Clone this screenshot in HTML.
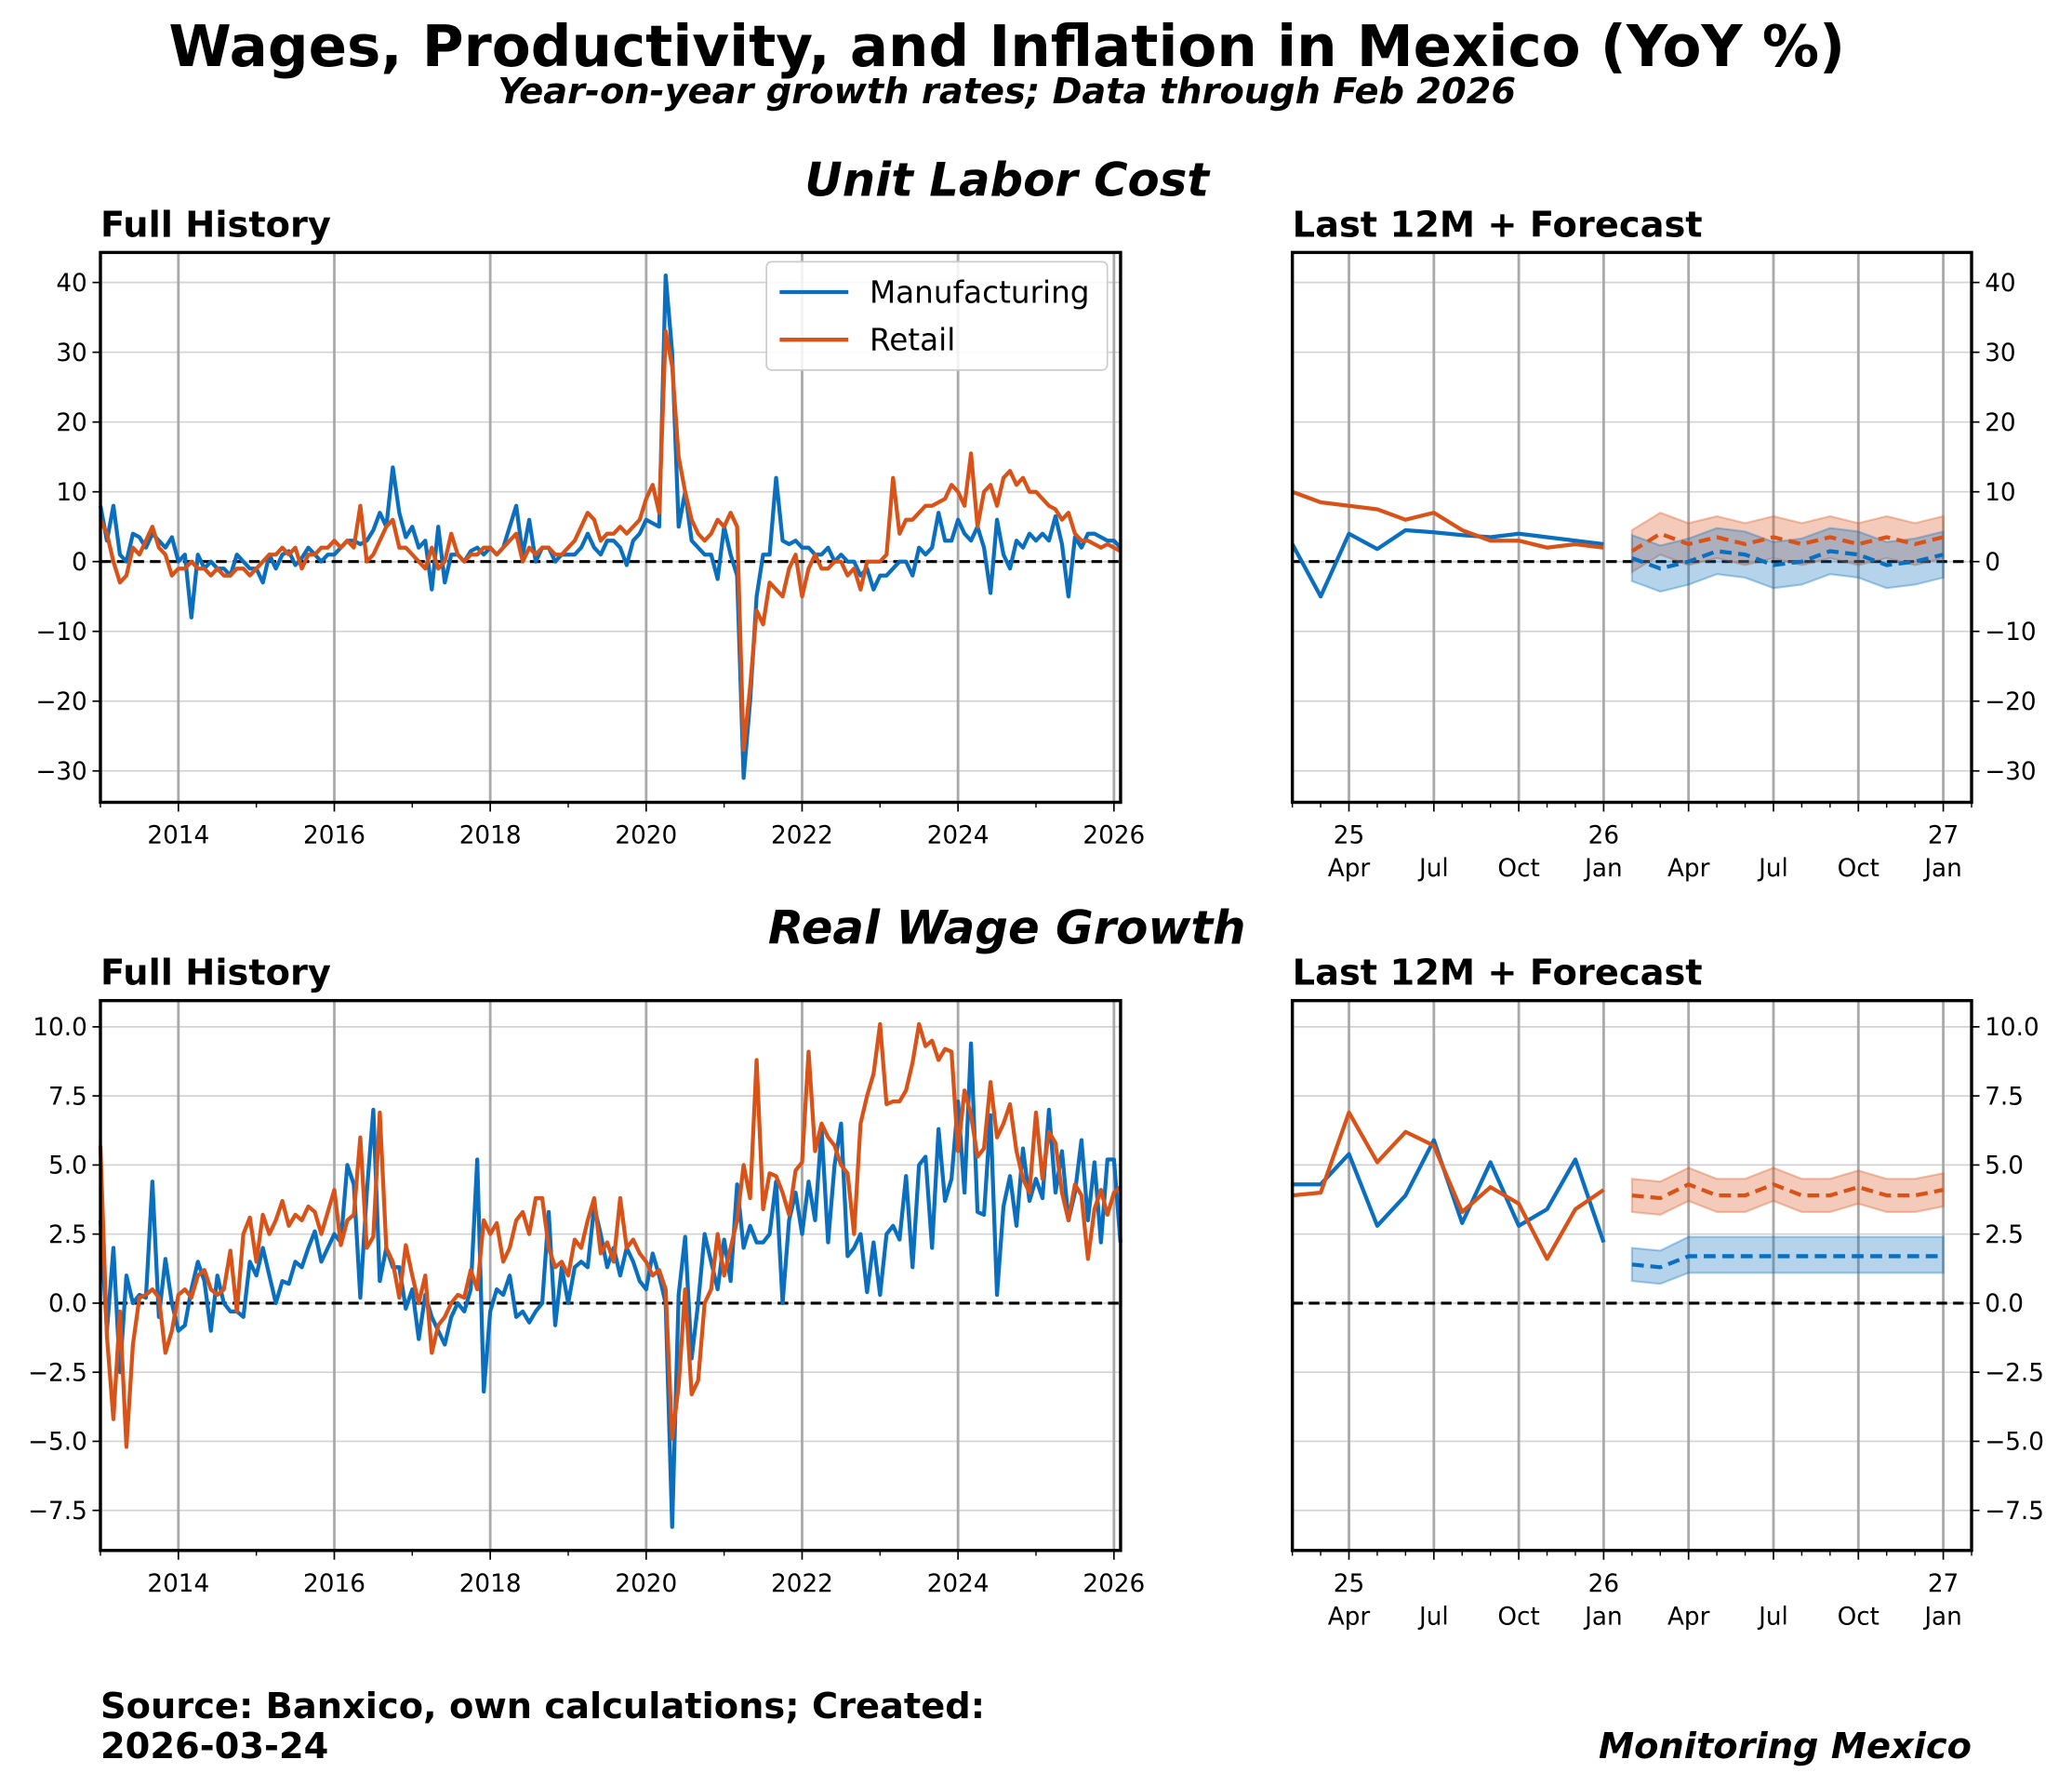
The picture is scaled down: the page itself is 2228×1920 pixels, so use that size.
<!DOCTYPE html>
<html><head><meta charset="utf-8">
<style>
html,body{margin:0;padding:0;background:#fff;}
svg{display:block;font-family:"DejaVu Sans","Liberation Sans",sans-serif;}
</style></head>
<body>
<svg id="c" xmlns="http://www.w3.org/2000/svg" width="2228" height="1920" viewBox="0 0 1568 1351.2" preserveAspectRatio="none">
<rect width="1568" height="1352" fill="#fff"/>
<text x="762" y="50" text-anchor="middle" font-size="43" font-weight="bold">Wages, Productivity, and Inflation in Mexico (YoY %)</text>
<text x="762" y="78" text-anchor="middle" font-size="27" font-weight="bold" font-style="italic">Year-on-year growth rates; Data through Feb 2026</text>
<text x="762" y="148" text-anchor="middle" font-size="35" font-weight="bold" font-style="italic">Unit Labor Cost</text>
<text x="762" y="714" text-anchor="middle" font-size="35" font-weight="bold" font-style="italic">Real Wage Growth</text>
<text x="76" y="179" font-size="27" font-weight="bold">Full History</text>
<text x="978" y="179" font-size="27" font-weight="bold">Last 12M + Forecast</text>
<text x="76" y="745" font-size="27" font-weight="bold">Full History</text>
<text x="978" y="745" font-size="27" font-weight="bold">Last 12M + Forecast</text>
<text x="76" y="1300" font-size="27" font-weight="bold">Source: Banxico, own calculations; Created:</text>
<text x="76" y="1330" font-size="27" font-weight="bold">2026-03-24</text>
<text x="1492" y="1330" text-anchor="end" font-size="27" font-weight="bold" font-style="italic">Monitoring Mexico</text>
</svg>
<script>
// ---- data ----
const ulcMfg=[8,3,8,1,0,4,3.5,2,4,3,2,3.5, 0,1,-8,1,-1,0,-1,-1,-2,1,0,-1, -1,-3,1,-1,1,1.5,-0.5,0.5,2,1,0,1, 1,2,3,3,2.5,3,4.5,7,5,13.5,7,3.5, 5,2,3,-4,5,-3,1,1,0,1.5,2,1, 2,1,2,5,8,1,6,0,2,2,0,1, 1,1,2,4,2,1,3,3,2,-0.5,3,4, 6,5.5,5,41,30,5,10,3,2,1,1,-2.5, 5,1,-2,-31,-20,-5,1,1,12,3,2.5,3, 2,2,1,1,2,0,1,0,0,-2,-1,-4, -2,-2,-1,0,0,-2,2,1,2,7,3,3, 6,4,3,5,2,-4.5,6,1,-1,3,2,4, 3,4,3,6.5,2.5,-5,3.5,2,4,4,3.5,3, 3,2];
const ulcRet=[6,4,0,-3,-2,2,1,3,5,2,1,-2, -1,-1,0,-1,-1,-2,-1,-2,-2,-1,-1,-2, -1,0,1,1,2,1,2,-1,1,1,2,2, 3,2,3,2,8,0,1,3,5,6,2,2, 1,0,-1,2,-1,0,4,1,0,1,1,2, 2,1,2,3,4,0,2,1,2,2,1,1, 2,3,5,7,6,3,4,4,5,4,5,6, 9,11,7,33,28,15,10,6,4,3,4,6, 5,7,5,-27,-18,-7,-9,-3,-4,-5,-1,1, -5,-1,1,-1,-1,0,0,-2,-1,-4,0,0, 0,1,12,4,6,6,7,8,8,8.5,9,11, 10,8,15.5,5,10,11,8,12,13,11,12,10, 10,9,8,7.5,6,7,4,3,3,2.5,2,2.5, 2,1.5];
const rwMfg=[3,-1,2,-2.5,1,0,0.3,0.2,4.4,-0.5,1.6,0, -1,-0.8,0.5,1.5,0.8,-1,1,0,-0.3,-0.3,-0.5,1.5, 1,2,1,0,0.8,0.7,1.5,1.3,2,2.6,1.5,2, 2.5,2.2,5,4.3,0.2,4,7,0.8,2,1.3,1.3,-0.2, 0.5,-1.3,0.3,-0.5,-1,-1.5,-0.5,0,-0.3,0.5,5.2,-3.2, -0.3,0.5,0.3,1,-0.5,-0.3,-0.7,-0.3,0,3.3,-0.8,1.3, 0,1.3,1.5,1.3,3.5,2.5,1.3,2,1,2,1.5,0.8, 0.5,1.8,1,0,-8.1,0.3,2.4,-2,0,2.5,1.5,0.5, 2.3,0.8,4.3,2,2.8,2.2,2.2,2.5,4.4,0,3,4, 2.5,4.4,3,6.3,2.2,5,6.5,1.7,2,2.5,0.4,2.2, 0.3,2.5,2.8,2.3,4.6,1.3,5,5.3,2,6.3,3.7,4.5, 7.3,4,9.4,3.3,3.2,6.8,0.3,3.5,4.6,2.8,5.6,3.7, 4.5,3.8,7,4,5.5,3,4,5.9,3,5.1,2.2,5.2, 5.2,2.2];
const rwRet=[5.7,-1.2,-4.2,-0.3,-5.2,-1.5,0.2,0.3,0.5,0.2,-1.8,-1, 0.3,0.5,0.2,1,1.2,0.5,0.3,0.5,1.9,-0.3,2.5,3.1, 1.5,3.2,2.5,3,3.7,2.8,3.2,3,3.5,3.3,2.5,3.3, 4.1,2.1,3,3.2,6,2,2.4,6.9,2,1.5,0.2,2.1, 1,0,1,-1.8,-0.8,-0.5,0,0.3,0.2,1.2,0.5,3, 2.5,2.9,1.5,2,3,3.3,2.5,3.8,3.8,2,1.3,1.5, 1,2.3,2,3,3.8,1.8,2.2,1.5,3.8,2,2.3,1.8, 1.5,1,1.2,0.5,-4.9,-3,0.5,-3.3,-2.8,0,0.5,2.5, 1,2,3,5,3.8,8.8,3.4,4.7,4.6,4,3.2,4.8, 5.1,9.1,5.5,6.5,6,5.7,5,4.7,2.5,6.5,7.5,8.3, 10.1,7.2,7.3,7.3,7.7,8.7,10.1,9.3,9.5,8.8,9.2,9.1, 5.5,7.7,6.8,5.3,5.6,8,6,6.5,7.2,5.5,4.5,4, 6.9,4.5,6.2,5.8,4,3,4.3,3.9,1.6,3.4,4.1,3.2, 4,4.2];
// last 12 months (Feb 2025 - Jan 2026)
const ulcMfgRecent=[2.5,-5,4,1.8,4.5,4.2,3.8,3.5,4,3.5,3,2.5];
const ulcRetRecent=[10,8.5,8,7.5,6,7,4.5,3,3,2,2.5,2];
// forecast (Feb 2026 - Jan 2027)
const ulcMfgFc=[0.5,-1,0,1.5,1,-0.5,0,1.5,1,-0.5,0,1];
const ulcMfgLo=[-2.8,-4.3,-3.3,-1.8,-2.3,-3.8,-3.3,-1.8,-2.3,-3.8,-3.3,-2.3];
const ulcMfgHi=[3.8,2.3,3.3,4.8,4.3,2.8,3.3,4.8,4.3,2.8,3.3,4.3];
const ulcRetFc=[1.5,4,2.5,3.5,2.5,3.5,2.5,3.5,2.5,3.5,2.5,3.5];
const ulcRetLo=[-1.5,1,-0.5,0.5,-0.5,0.5,-0.5,0.5,-0.5,0.5,-0.5,0.5];
const ulcRetHi=[4.5,7,5.5,6.5,5.5,6.5,5.5,6.5,5.5,6.5,5.5,6.5];
const rwMfgRecent=[4.3,4.3,5.4,2.8,3.9,5.9,2.9,5.1,2.8,3.4,5.2,2.2];
const rwRetRecent=[3.9,4.0,6.9,5.1,6.2,5.7,3.3,4.2,3.6,1.6,3.4,4.1];
const rwMfgFc=[1.4,1.3,1.7,1.7,1.7,1.7,1.7,1.7,1.7,1.7,1.7,1.7];
const rwMfgLo=[0.8,0.7,1.1,1.1,1.1,1.1,1.1,1.1,1.1,1.1,1.1,1.1];
const rwMfgHi=[2.0,1.9,2.4,2.4,2.4,2.4,2.4,2.4,2.4,2.4,2.4,2.4];
const rwRetFc=[3.9,3.8,4.3,3.9,3.9,4.3,3.9,3.9,4.2,3.9,3.9,4.1];
const rwRetLo=[3.3,3.2,3.7,3.3,3.3,3.7,3.3,3.3,3.6,3.3,3.3,3.5];
const rwRetHi=[4.5,4.4,4.9,4.5,4.5,4.9,4.5,4.5,4.8,4.5,4.5,4.7];
const ulcTicks=[40,30,20,10,0,-10,-20,-30];
const rwTicks=[10,7.5,5,2.5,0,-2.5,-5,-7.5];
const yearLabels=[2014,2016,2018,2020,2022,2024,2026];
const quarterLabels=['Apr','Jul','Oct','Jan','Apr','Jul','Oct','Jan'];

const BLUE='#0a6fbf', ORANGE='#d95319';
const FS=18.5;
const svg=document.getElementById('c');
const NS='http://www.w3.org/2000/svg';
function mk(tag,attrs,parent){const e=document.createElementNS(NS,tag);for(const k in attrs)e.setAttribute(k,attrs[k]);(parent||svg).appendChild(e);return e;}
function axis(p){
  p.sx=v=>p.x0+(v-p.xmin)/(p.xmax-p.xmin)*(p.x1-p.x0);
  p.sy=v=>p.y0+(p.ymax-v)/(p.ymax-p.ymin)*(p.y1-p.y0);
  return p;
}
function pathFrom(xs,ys,p){return xs.map((x,i)=>(i?'L':'M')+p.sx(x).toFixed(2)+','+p.sy(ys[i]).toFixed(2)).join('');}

function yGrid(p,ticks,right){
  const dec=ticks.some(v=>!Number.isInteger(v));
  ticks.forEach(t=>{
    const y=p.sy(t);
    const g=mk('line',{x1:p.x0,x2:p.x1,y1:y,y2:y,stroke:'#d3d3d3','stroke-width':1.2});
    
    
    const tx=right?p.x1:p.x0;
    mk('line',{x1:tx,x2:right?tx+6:tx-6,y1:y,y2:y,stroke:'#000','stroke-width':1.2});
    const lab=mk('text',{x:right?tx+10:tx-10,y:y+6.5,'text-anchor':right?'start':'end','font-size':FS});
    lab.textContent=(dec?t.toFixed(1):String(t)).replace('-','\u2212');
    
    
  });
}
function frame(p,name){
  const r=mk('rect',{x:p.x0,y:p.y0,width:p.x1-p.x0,height:p.y1-p.y0,fill:'none',stroke:'#000','stroke-width':2.4});
  
  
}
function zero(p){
  const z=mk('line',{x1:p.x0,x2:p.x1,y1:p.sy(0),y2:p.sy(0),stroke:'#000','stroke-width':2.2,'stroke-dasharray':'8,4.5'});
  
  
}
function line(p,xs,ys,color,name,dash){
  const a={d:pathFrom(xs,ys,p),fill:'none',stroke:color,'stroke-width':3,'stroke-linejoin':'round'};
  if(dash)a['stroke-dasharray']='9,5';
  const l=mk('path',a);
  
  
}
function band(p,xs,lo,hi,color,name){
  let d=pathFrom(xs,hi,p);
  for(let i=xs.length-1;i>=0;i--)d+='L'+p.sx(xs[i]).toFixed(2)+','+p.sy(lo[i]).toFixed(2);
  const b=mk('path',{d:d+'Z',fill:color,'fill-opacity':0.3,stroke:color,'stroke-opacity':0.35,'stroke-width':1.5});
  
  
}

function historyPanel(p,mfg,ret,ticks,prefix,legend){
  axis(p);
  yGrid(p,ticks,false);
  for(let yr=2013;yr<=2026;yr++){
    const x=p.sx(yr);
    if(x<p.x0-0.5||x>p.x1+0.5)continue;
    if(yr%2===0){
      const v=mk('line',{x1:x,x2:x,y1:p.y0,y2:p.y1,stroke:'#aaa','stroke-width':2});
      
      
      mk('line',{x1:x,x2:x,y1:p.y1,y2:p.y1+7,stroke:'#000','stroke-width':1.2});
    } else mk('line',{x1:x,x2:x,y1:p.y1,y2:p.y1+4,stroke:'#000','stroke-width':1});
  }
  yearLabels.forEach(yr=>{
    const t=mk('text',{x:p.sx(yr),y:p.y1+31,'text-anchor':'middle','font-size':FS});
    t.textContent=yr;
    
    
  });
  zero(p);
  const xs=mfg.map((_,i)=>2013+i/12);
  line(p,xs,mfg,BLUE,prefix+'-manufacturing-line');
  line(p,xs,ret,ORANGE,prefix+'-retail-line');
  frame(p,prefix+'-history-plot-area');
  if(legend){
    const g=mk('g',{});
    
    
    mk('rect',{x:580,y:198,width:258,height:82,rx:4,fill:'#fff','fill-opacity':0.85,stroke:'#ccc','stroke-width':1.2},g);
    [['Manufacturing',BLUE,221],['Retail',ORANGE,257]].forEach(([n,c,y])=>{
      const e=mk('g',{},g);
      
      
      mk('line',{x1:590,x2:642,y1:y,y2:y,stroke:c,'stroke-width':3},e);
      const t=mk('text',{x:658,y:y+8,'font-size':23},e);t.textContent=n;
    });
  }
}

function recentPanel(p,d,ticks,prefix){
  axis(p);
  yGrid(p,ticks,true);
  for(let m=1;m<=25;m++){
    const x=p.sx(m);
    if(m%3===0){
      const v=mk('line',{x1:x,x2:x,y1:p.y0,y2:p.y1,stroke:'#aaa','stroke-width':2});
      
      
      mk('line',{x1:x,x2:x,y1:p.y1,y2:p.y1+7,stroke:'#000','stroke-width':1.2});
    } else mk('line',{x1:x,x2:x,y1:p.y1,y2:p.y1+4,stroke:'#000','stroke-width':1});
  }
  quarterLabels.forEach((q,i)=>{
    const m=3+i*3;
    const t=mk('text',{x:p.sx(m),y:p.y1+56,'text-anchor':'middle','font-size':FS});
    t.textContent=q;
    
    
  });
  [['25',3],['26',12],['27',24]].forEach(([s,m])=>{
    const t=mk('text',{x:p.sx(m),y:p.y1+31,'text-anchor':'middle','font-size':FS});
    t.textContent=s;
    
    
  });
  zero(p);
  const xr=d.mfg.map((_,i)=>1+i), xf=d.mfgFc.map((_,i)=>13+i);
  band(p,xf,d.retLo,d.retHi,ORANGE,prefix+'-retail-forecast-band');
  band(p,xf,d.mfgLo,d.mfgHi,BLUE,prefix+'-manufacturing-forecast-band');
  line(p,xr,d.mfg,BLUE,prefix+'-manufacturing-recent-line');
  line(p,xr,d.ret,ORANGE,prefix+'-retail-recent-line');
  line(p,xf,d.mfgFc,BLUE,prefix+'-manufacturing-forecast-line',true);
  line(p,xf,d.retFc,ORANGE,prefix+'-retail-forecast-line',true);
  frame(p,prefix+'-forecast-plot-area');
}

historyPanel({x0:76,x1:848,y0:191,y1:607,xmin:2013,xmax:2026.085,ymin:-34.5,ymax:44.3},ulcMfg,ulcRet,ulcTicks,'ulc',true);
recentPanel({x0:978,x1:1492,y0:191,y1:607,xmin:1,xmax:25,ymin:-34.5,ymax:44.3},
  {mfg:ulcMfgRecent,ret:ulcRetRecent,mfgFc:ulcMfgFc,mfgLo:ulcMfgLo,mfgHi:ulcMfgHi,retFc:ulcRetFc,retLo:ulcRetLo,retHi:ulcRetHi},ulcTicks,'ulc');
historyPanel({x0:76,x1:848,y0:757,y1:1173,xmin:2013,xmax:2026.085,ymin:-8.95,ymax:10.95},rwMfg,rwRet,rwTicks,'rwg',false);
recentPanel({x0:978,x1:1492,y0:757,y1:1173,xmin:1,xmax:25,ymin:-8.95,ymax:10.95},
  {mfg:rwMfgRecent,ret:rwRetRecent,mfgFc:rwMfgFc,mfgLo:rwMfgLo,mfgHi:rwMfgHi,retFc:rwRetFc,retLo:rwRetLo,retHi:rwRetHi},rwTicks,'rwg');
</script>
</body></html>
